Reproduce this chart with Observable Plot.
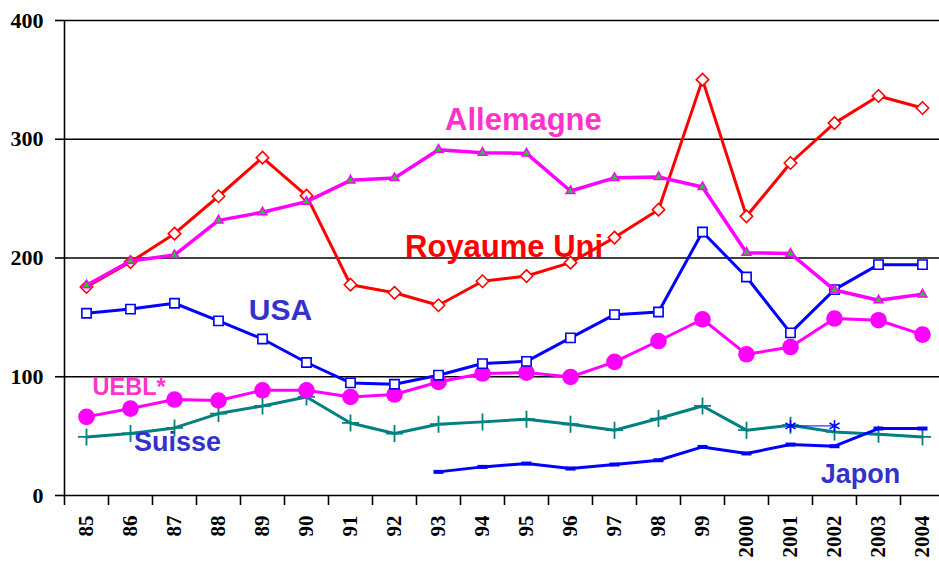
<!DOCTYPE html>
<html>
<head>
<meta charset="utf-8">
<script src="https://cdn.jsdelivr.net/npm/d3@7"></script>
<script src="https://cdn.jsdelivr.net/npm/@observablehq/plot@0.6"></script>
<style>
  html, body { margin: 0; padding: 0; background: #fff; }
  #chart { width: 939px; height: 561px; }
</style>
</head>
<body>
<div id="chart"></div>
<script>
const years = ["85","86","87","88","89","90","91","92","93","94","95","96","97","98","99","2000","2001","2002","2003","2004"];
const yTicks = [0, 100, 200, 300, 400];

const royaumeUni = [175.6, 196.6, 220.5, 252, 284.5, 252.5, 177.5, 170.7, 160.2, 180.4, 184.8, 196.1, 217.2, 240.7, 350.2, 235.1, 280, 313.6, 336.4, 326.3];
const allemagne = [177, 197.5, 202.5, 231.7, 238.5, 247.5, 265.4, 267.3, 291.2, 288.7, 288.1, 256.4, 267.5, 268.2, 259.8, 204.5, 203.7, 173, 164.4, 169.4];
const usa = [153.5, 157, 161.9, 147, 131.8, 112, 94.8, 93.7, 101.3, 111.1, 113, 132.7, 152.3, 154.5, 221.9, 184, 136.9, 173.4, 194.4, 194.4];
const uebl = [66.2, 73.2, 80.8, 80, 88.6, 88.6, 83, 85, 95.6, 102.7, 103.5, 99.8, 112.5, 130.1, 148.4, 118.9, 125, 149, 147.6, 135.5];
const suisse = [49.3, 52.2, 56.9, 69, 75.4, 83, 61.1, 52.2, 60, 62, 64.2, 60, 55, 64.8, 75.4, 55, 59.2, 53.5, 51.6, 49.3];
const japon = [null, null, null, null, null, null, null, null, 19.9, 24.1, 26.9, 22.7, 26.1, 29.7, 40.9, 35.4, 42.9, 41.5, 56.4, 56.4];
const autre = [null, null, null, null, null, null, null, null, null, null, null, null, null, null, null, null, 58.6, 58.6, null, null];

const labelNames = ["Allemagne", "Royaume Uni", "USA", "UEBL*", "Suisse", "Japon"];
const labelX = [10.43, 9.99, 4.91, 1.47, 2.57, 18.09];
const labelY = [307.5, 200.8, 148.2, 84.4, 37.3, 10.9];
const labelColors = ["#ff33cc", "#ff0000", "#3333cc", "#ff33cc", "#3333cc", "#3333cc"];
const labelSizes = [31, 31, 30, 23.5, 27, 27];

const rows = arr => arr.map((v, i) => ({i: i + 0.5, v})).filter(d => d.v != null);

const dash = {
  draw(ctx, size) {
    const r = Math.sqrt(size / Math.PI);
    ctx.rect(-r, -r * 0.4, 2 * r, r * 0.8);
  }
};
const plusMark = {
  draw(ctx, size) {
    const r = Math.sqrt(size / Math.PI);
    ctx.moveTo(-r, 0); ctx.lineTo(r, 0);
    ctx.moveTo(0, -r); ctx.lineTo(0, r);
  }
};

const labels = labelNames.map((t, k) => ({t, x: labelX[k], y: labelY[k], c: labelColors[k], s: labelSizes[k]}));

const chart = Plot.plot({
  width: 939,
  height: 561,
  marginLeft: 64,
  marginRight: 0,
  marginTop: 20,
  marginBottom: 66,
  style: {background: "#fff", overflow: "visible"},
  x: {type: "linear", domain: [0, 20], range: [64, 944]},
  y: {domain: [0, 400]},
  marks: [
    Plot.ruleY(yTicks, {stroke: "#000", strokeWidth: 1.6}),
    Plot.ruleX([0], {stroke: "#000", strokeWidth: 1.6}),
    Plot.axisY({ticks: yTicks, tickSize: 9, tickPadding: 12, stroke: "#000", strokeWidth: 1.6,
      fontSize: 22, fontFamily: "Liberation Serif", fontWeight: "bold", fill: "#000", label: null}),
    Plot.axisX({ticks: d3.range(0, 21), tickSize: 10, tickFormat: () => "", stroke: "#000", strokeWidth: 1.6, label: null}),
    Plot.axisX({ticks: d3.range(20).map(i => i + 0.5), tickSize: 0, tickPadding: 20, tickRotate: -90,
      tickFormat: d => years[Math.floor(d)], fontSize: 21, fontFamily: "Liberation Serif", fontWeight: "bold", fill: "#000", label: null}),

    // Suisse
    Plot.line(rows(suisse), {x: "i", y: "v", stroke: "#008080", strokeWidth: 3}),
    Plot.dot(rows(suisse), {x: "i", y: "v", symbol: plusMark, r: 8.5, stroke: "#008080", strokeWidth: 1.8}),
    // Japon
    Plot.line(rows(japon), {x: "i", y: "v", stroke: "#0000ff", strokeWidth: 3}),
    Plot.dot(rows(japon), {x: "i", y: "v", symbol: dash, r: 5, fill: "#0000ff", stroke: "none"}),
    // autre
    Plot.line(rows(autre), {x: "i", y: "v", stroke: "#0000ff", strokeWidth: 1}),
    Plot.dot(rows(autre), {x: "i", y: "v", symbol: "asterisk", r: 5.5, stroke: "#0000ff", strokeWidth: 1.5}),
    // UEBL
    Plot.line(rows(uebl), {x: "i", y: "v", stroke: "#ff00ff", strokeWidth: 3}),
    Plot.dot(rows(uebl), {x: "i", y: "v", r: 8.3, fill: "#ff00ff", stroke: "none"}),
    // USA
    Plot.line(rows(usa), {x: "i", y: "v", stroke: "#0000ff", strokeWidth: 3}),
    Plot.dot(rows(usa), {x: "i", y: "v", symbol: "square2", r: 5.9, fill: "#fff", stroke: "#0000ff", strokeWidth: 1.6}),
    // Royaume Uni
    Plot.line(rows(royaumeUni), {x: "i", y: "v", stroke: "#ff0000", strokeWidth: 3}),
    Plot.dot(rows(royaumeUni), {x: "i", y: "v", symbol: "diamond2", r: 5.6, fill: "#fff", stroke: "#ff0000", strokeWidth: 1.6}),
    // Allemagne
    Plot.line(rows(allemagne), {x: "i", y: "v", stroke: "#ff00ff", strokeWidth: 3.5}),
    Plot.dot(rows(allemagne), {x: "i", y: "v", symbol: "triangle2", r: 4.2, fill: "#22cc22", stroke: "#ff00ff", strokeWidth: 1.5}),

    Plot.text(labels, {x: "x", y: "y", text: "t", fill: "c", fontSize: "s", fontFamily: "Liberation Sans",
      fontWeight: "bold", textAnchor: "middle", lineAnchor: "bottom"})
  ]
});
document.getElementById("chart").appendChild(chart);
</script>
</body>
</html>
